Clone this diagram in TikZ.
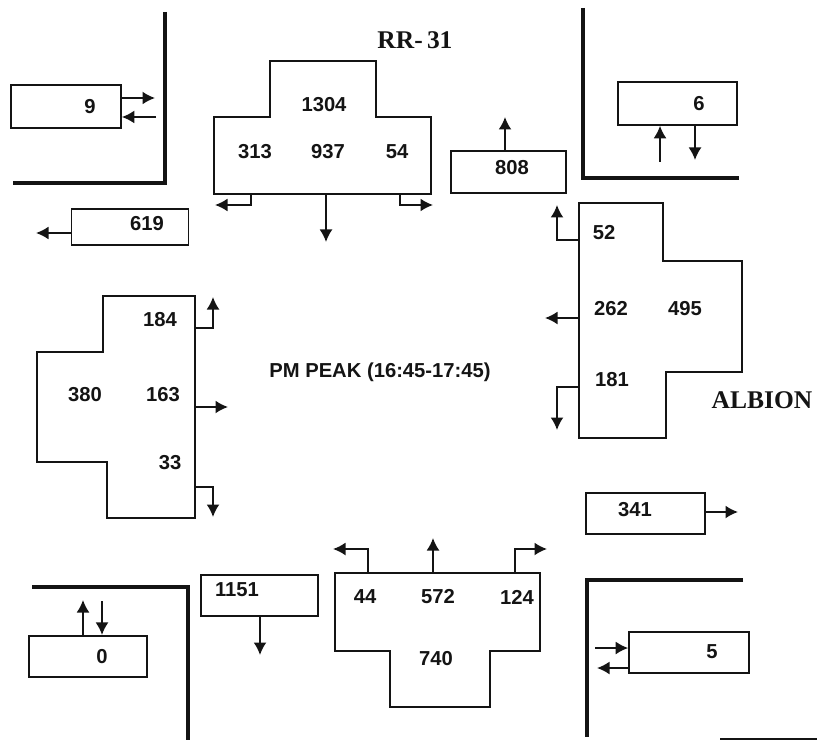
\documentclass[tikz,border=0pt]{standalone}
\usepackage{fontspec}
\setmainfont{Liberation Serif}
\setsansfont{Liberation Sans}
\usepackage{xcolor}
\usepackage{tikz}
\usetikzlibrary{arrows.meta,positioning}
\definecolor{tinta}{RGB}{20,20,20}
\tikzset{
  caixa/.style={rectangle,draw=tinta,line width=0.9pt,inner sep=0pt,
    minimum width=23.4mm,minimum height=8.3mm},
  num/.style={font=\sffamily\bfseries\fontsize{11.5}{13}\selectfont,text=tinta,inner sep=0pt},
  rua/.style={font=\bfseries\fontsize{14.5}{16}\selectfont,text=tinta,inner sep=0pt},
  aprox/.style={draw=tinta,line width=0.9pt},
  via/.style={draw=tinta,line width=2.3pt},
  seta/.style={-{Latex[length=2.5mm,width=2.6mm]},line width=1.1pt,tinta}
}

\begin{document}
\begin{tikzpicture}[x=0.2mm,y=-0.2mm]
\useasboundingbox (0,0) rectangle (817,749);

% meio-fio
\draw[via] (165,12) -- (165,183) -- (13,183);
\draw[via] (583,8) -- (583,178) -- (739,178);
\draw[via] (32,587) -- (188,587) -- (188,740);
\draw[via] (743,580) -- (587,580) -- (587,737);
\draw[tinta,line width=0.6pt] (720,739) -- (817,739);

% nomes das ruas
\node[rua] (rr31) at (415,40) {RR-\,31};
\node[rua] (albion) at (762,400) {ALBION};
\node[num] (pico) at (380,372) {PM PEAK (16:45-17:45)};

% caixas de saida
\node[caixa,minimum width=22mm,minimum height=8.6mm] (c9) at (66,106.5) {};
\node[num] (t9) at (90,107) {9};
\node[caixa,minimum height=7.2mm] (c619) at (130,227) {};
\node[num] (t619) at (147,224) {619};
\node[caixa,minimum width=23mm] (c808) at (508.5,172) {};
\node[num] (t808) at (512,168) {808};
\node[caixa,minimum width=23.8mm,minimum height=8.6mm] (c6) at (677.5,103.5) {};
\node[num] (t6) at (699,104) {6};
\node[caixa,minimum width=23.8mm] (c341) at (645.5,513.5) {};
\node[num] (t341) at (635,510) {341};
\node[caixa,minimum width=24mm] (c5) at (689,652.5) {};
\node[num] (t5) at (712,652) {5};
\node[caixa,minimum width=23.6mm] (c0) at (88,656.5) {};
\node[num] (t0) at (102,657) {0};
\node[caixa] (c1151) at (259.5,595.5) {};
\node[num] (t1151) at (237,590) {1151};

% aproximacoes
\draw[aprox] (214,117) -- (270,117) -- (270,61) -- (376,61) -- (376,117)
  -- (431,117) -- (431,194) -- (214,194) -- cycle;
\draw[aprox] (579,203) -- (663,203) -- (663,261) -- (742,261) -- (742,372)
  -- (666,372) -- (666,438) -- (579,438) -- cycle;
\draw[aprox] (103,296) -- (195,296) -- (195,518) -- (107,518) -- (107,462)
  -- (37,462) -- (37,352) -- (103,352) -- cycle;
\draw[aprox] (335,573) -- (540,573) -- (540,651) -- (490,651) -- (490,707)
  -- (390,707) -- (390,651) -- (335,651) -- cycle;

\node[num] (n1304) at (324,105) {1304};
\node[num] (n313) at (255,152) {313};
\node[num] (n937) at (328,152) {937};
\node[num] (n54) at (397,152) {54};
\node[num] (l52) at (604,233) {52};
\node[num] (l262) at (611,309) {262};
\node[num] (l495) at (685,309) {495};
\node[num] (l181) at (612,380) {181};
\node[num] (o184) at (160,320) {184};
\node[num] (o380) at (85,395) {380};
\node[num] (o163) at (163,395) {163};
\node[num] (o33) at (170,463) {33};
\node[num] (s44) at (365,597) {44};
\node[num] (s572) at (438,597) {572};
\node[num] (s124) at (517,597) {124};
\node[num] (s740) at (436,659) {740};

% pontos das setas
\coordinate (a313) at (251,194);  \coordinate (p313) at (215,205);
\coordinate (a937) at (326,194);  \coordinate (p937) at (326,242);
\coordinate (a54) at (400,194);   \coordinate (p54) at (433,205);
\coordinate (a52) at (579,240);   \coordinate (p52) at (557,205);
\coordinate (a262) at (579,318);  \coordinate (p262) at (545,318);
\coordinate (a181) at (579,387);  \coordinate (p181) at (557,430);
\coordinate (a184) at (195,328);  \coordinate (p184) at (213,297);
\coordinate (a163) at (195,407);  \coordinate (p163) at (228,407);
\coordinate (a33) at (195,487);   \coordinate (p33) at (213,517);
\coordinate (a44) at (368,573);   \coordinate (p44) at (333,549);
\coordinate (a572) at (433,573);  \coordinate (p572) at (433,538);
\coordinate (a124) at (515,573);  \coordinate (p124) at (547,549);

\draw[seta] (a313) |- (p313);
\draw[seta] (a937) -- (p937);
\draw[seta] (a54) |- (p54);
\draw[seta] (a52) -| (p52);
\draw[seta] (a262) -- (p262);
\draw[seta] (a181) -| (p181);
\draw[seta] (a184) -| (p184);
\draw[seta] (a163) -- (p163);
\draw[seta] (a33) -| (p33);
\draw[seta] (a44) |- (p44);
\draw[seta] (a572) -- (p572);
\draw[seta] (a124) |- (p124);

% setas das caixas
\coordinate (p9) at (155,98);   \coordinate (q9) at (156,117);
\coordinate (p619) at (36,233);
\coordinate (p808) at (505,117);
\coordinate (q6) at (660,162);  \coordinate (p6) at (695,160);
\coordinate (p341) at (738,512);
\coordinate (q5) at (595,648);  \coordinate (p5) at (597,668);
\coordinate (p0) at (83,600);   \coordinate (q0) at (102,601);
\coordinate (p1151) at (260,655);

\draw[seta] (c9.east |- p9) -- (p9);
\draw[seta] (q9) -- (c9.east |- q9);
\draw[seta] (c619.west |- p619) -- (p619);
\draw[seta] (c808.north -| p808) -- (p808);
\draw[seta] (q6) -- (c6.south -| q6);
\draw[seta] (c6.south -| p6) -- (p6);
\draw[seta] (c341.east |- p341) -- (p341);
\draw[seta] (q5) -- (c5.west |- q5);
\draw[seta] (c5.west |- p5) -- (p5);
\draw[seta] (c0.north -| p0) -- (p0);
\draw[seta] (q0) -- (c0.north -| q0);
\draw[seta] (c1151.south -| p1151) -- (p1151);
\end{tikzpicture}
\end{document}
